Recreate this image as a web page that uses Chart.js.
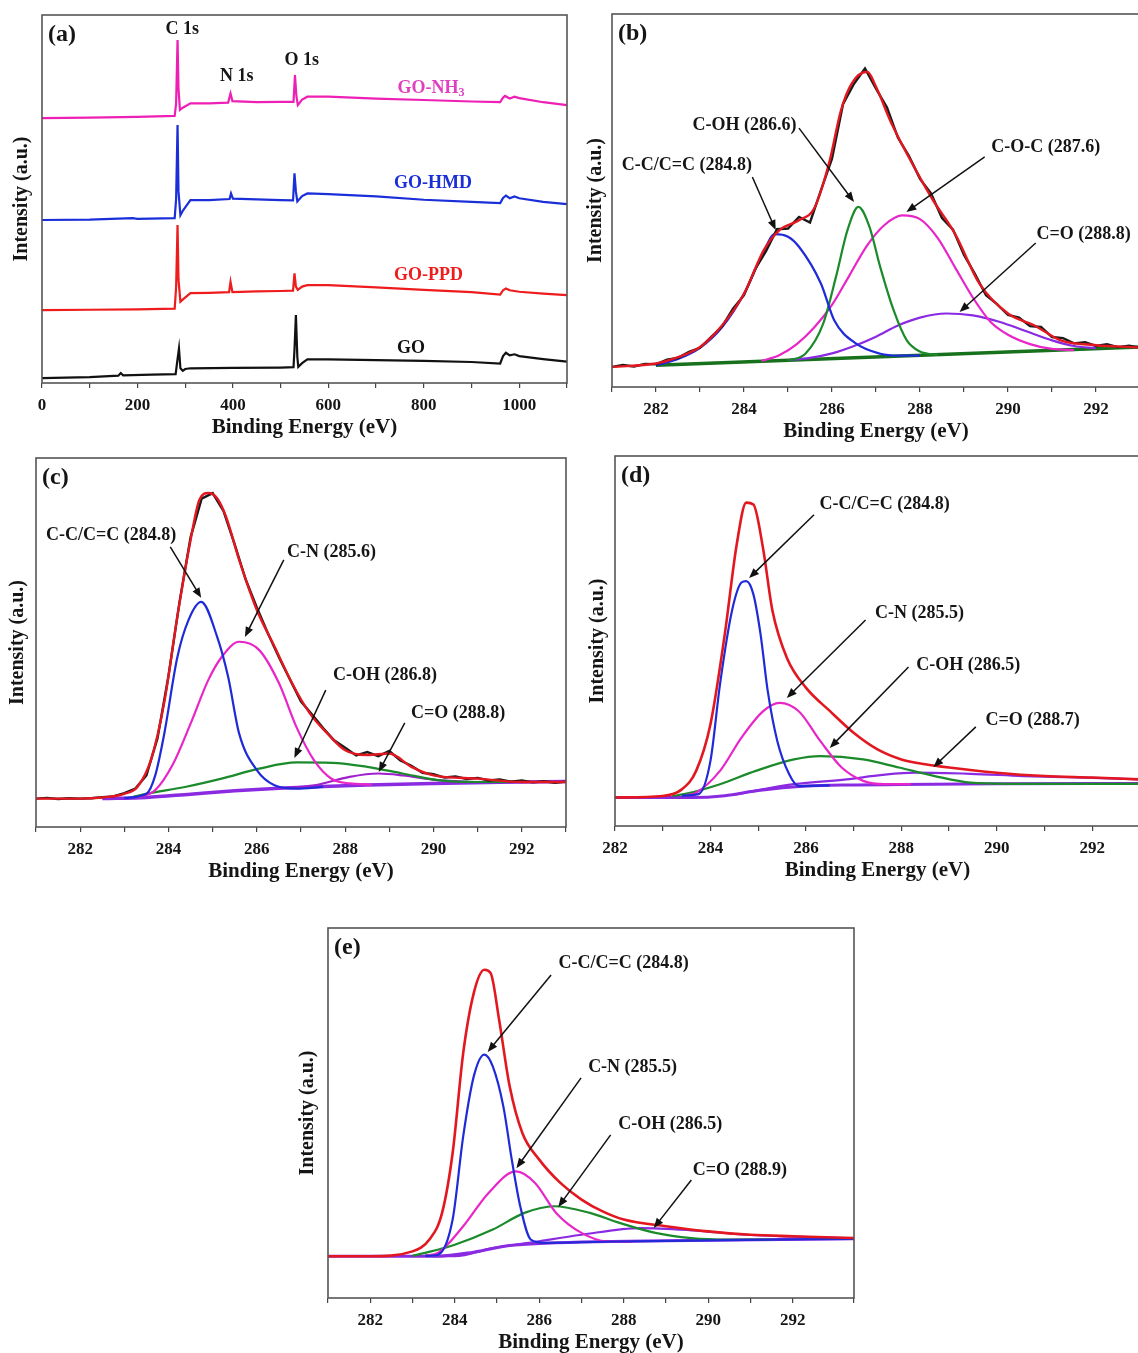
<!DOCTYPE html>
<html>
<head>
<meta charset="utf-8">
<script src="https://cdn.jsdelivr.net/npm/chart.js@4.4.1/dist/chart.umd.min.js"></script>
<style>
html, body { margin: 0; padding: 0; background: #fff; width: 1138px; height: 1353px; overflow: hidden; }
canvas { position: absolute; }
</style>
</head>
<body>
<canvas id="pa"></canvas>
<canvas id="pb"></canvas>
<canvas id="pc"></canvas>
<canvas id="pd"></canvas>
<canvas id="pe"></canvas>
<script>
// ---- (a) survey spectra, [binding energy, intensity] ----
const aNH3 = [[0,72.0],[100,72.1],[200,72.3],[278,72.6],[281,76],[284,93.2],[286,80],[289,74.2],[295,74.8],[311,76.0],[350,76.0],[390,76.2],[395,78.7],[399,76.6],[450,76.3],[500,76.4],[527,76.4],[530,83.7],[533,78],[536,75.5],[545,77],[556,77.8],[600,77.8],[700,77.3],[800,76.9],[900,76.5],[960,76.3],[965,77.4],[970,78.0],[980,77.3],[990,77.8],[1000,77.4],[1050,76.3],[1100,75.5]];
const aHMD = [[0,44.3],[100,44.4],[190,44.8],[200,44.6],[278,44.8],[281,50],[284,70.1],[286,52],[290,45.6],[296,47],[311,49.7],[350,49.7],[393,50.0],[396,51.5],[400,50.1],[450,49.9],[500,49.7],[526,49.6],[529,57.0],[532,52],[535,49.3],[545,50.8],[556,51.5],[600,51.3],[700,50.7],[800,49.8],[900,49.2],[960,48.9],[966,50.3],[972,50.9],[980,50.2],[990,50.7],[1000,50.2],[1050,49.2],[1100,48.6]];
const aPPD = [[0,19.8],[100,19.9],[200,20.0],[278,20.2],[281,26],[284,42.9],[286,28],[290,22.1],[296,22.8],[311,24.4],[350,24.5],[392,24.7],[395,27.5],[399,24.7],[450,24.9],[500,25.0],[526,25.1],[529,29.8],[532,26.2],[536,25.3],[545,26.2],[556,26.6],[600,26.6],[700,26.0],[800,25.3],[900,24.7],[960,24.0],[966,25.2],[972,25.7],[980,25.2],[1000,24.8],[1050,24.3],[1100,23.9]];
const aGO = [[0,1.3],[100,1.6],[160,2.0],[165,2.7],[170,2.1],[230,2.3],[280,2.4],[284,6.5],[287,9.4],[290,4.0],[295,3.3],[300,3.8],[311,4.0],[400,4.1],[500,4.2],[527,4.3],[529,9],[532,18.5],[535,7],[537,4.4],[545,5.4],[556,6.4],[600,6.4],[700,6.2],[800,6.0],[900,5.7],[960,5.3],[966,7.3],[972,8.2],[980,7.5],[990,7.8],[1000,7.3],[1050,6.5],[1100,5.8]];

// ---- (b) GO C1s ----
const bRawStart = 281, bRawStep = 0.25;
const bRaw = [5.4,5.9,5.5,6.2,6.1,7.3,7.8,9.4,10.5,13.4,16.2,21.0,24.6,31.5,36.4,42.3,42.5,45.6,44.1,52.8,61.2,75.8,81.3,85.4,80.0,74.9,66.8,61.9,55.8,51.9,45.3,42.2,35.4,30.3,24.6,22.2,19.3,18.6,16.3,16.1,13.4,13.1,11.7,12.0,11.0,11.5,10.7,11.1,10.5];
const bEnv = [[281,5.4],[282,6.3],[282.5,8],[283,10.7],[283.5,16.5],[284,25],[284.45,36.7],[284.8,42],[285.25,44.7],[285.6,48],[285.95,60.8],[286.2,74],[286.45,81.4],[286.8,84.5],[287,80.5],[287.35,70.7],[287.95,57.2],[288.3,50],[288.8,41],[289.35,27.7],[290,19.7],[290.6,16.5],[291.2,12.5],[292,11.2],[292.8,10.7],[293,10.6]];
const bBase = [[282,5.8],[293,10.7]];
const bCC = [[282,5.8],[282.5,7.5],[283,10.5],[283.5,16],[284,25],[284.4,35],[284.7,41],[285,40.3],[285.25,37.6],[285.75,27.7],[286.05,17.9],[286.55,11.6],[287.1,8.9],[287.5,8.4],[288,8.4]];
const bCOH = [[285,7.1],[285.4,9],[285.8,17],[286.1,30],[286.35,42],[286.6,48.3],[286.85,43],[287.1,32],[287.4,20.6],[287.7,12.5],[288,9.5],[288.4,8.6]];
const bCOC = [[284.4,7],[284.8,8.5],[285.2,11.5],[285.6,16],[286,22],[286.4,30],[286.8,38],[287.2,43.5],[287.6,46],[288,45],[288.4,40],[288.8,32],[289.2,24],[289.6,17.5],[290,14],[290.5,11.5],[291,10.2],[291.5,9.9]];
const bCO = [[285,7.2],[285.5,7.8],[286,9],[286.5,11],[287,13.5],[287.5,16.5],[288,18.6],[288.6,19.7],[289.2,19.2],[289.8,17.5],[290.4,15],[291,12.5],[291.5,11],[292,10.4]];

// ---- (c) GO-PPD C1s ----
const cRawStart = 281, cRawStep = 0.25;
const cRaw = [7.7,7.9,7.6,7.8,7.7,7.8,8.1,8.3,9.2,10.4,14.0,24.0,41.0,61.0,78.5,89.0,90.5,85.5,76.5,67.0,59.5,52.5,46.0,40.0,34.0,30.5,26.8,23.5,21.5,19.4,20.3,19.2,20.6,18.0,16.6,14.7,14.3,13.4,13.7,13.0,13.3,12.6,12.9,12.3,12.6,12.1,12.4,12.0,12.3];
const cEnv = [[281,7.7],[282,7.7],[282.5,8.0],[283,9.0],[283.3,10.9],[283.6,18.1],[283.9,33.5],[284.2,57],[284.5,77.8],[284.7,88.7],[284.9,90.5],[285.1,89.1],[285.3,84.2],[285.6,72.4],[286,58.8],[286.4,48.9],[286.8,38.9],[287.2,30.8],[287.6,25.3],[288,20.8],[288.5,19.5],[289,19.9],[289.5,16.3],[290,14.0],[291,13.1],[292,12.2],[293,12.2]];
const cBase = [[282.5,7.7],[283.5,8.0],[284.5,8.9],[285.5,9.8],[286.5,10.5],[287.5,11.0],[288.5,11.4],[290,11.8],[291.5,12.1],[293,12.3]];
const cCC = [[283,7.9],[283.5,9],[283.7,14],[283.9,25],[284.2,46],[284.45,56],[284.74,61],[285.1,51.6],[285.35,40.7],[285.6,25.3],[286,15.4],[286.4,11.3],[286.9,10.4],[287.5,10.9]];
const cCN = [[283.3,8.0],[283.7,10],[284.1,17],[284.5,28],[284.9,39.8],[285.2,46],[285.6,50.2],[286.05,48],[286.5,39],[286.9,27],[287.3,18],[287.7,13],[288.1,11.8],[288.6,11.5]];
const cCOH = [[283.2,8.2],[283.5,9],[284.4,10.9],[285.2,13.1],[286.05,15.8],[286.9,17.5],[287.7,17.4],[288.5,16.3],[289.3,14.5],[290.1,12.7],[291,12.2],[292,12.2]];
const cCO = [[286.5,10.5],[287.3,11.3],[288.1,13.6],[288.75,14.5],[289.3,14],[290.1,12.7],[291,12.2]];

// ---- (d) GO-HMD C1s ----
const dEnv = [[282,7.7],[283,8.1],[283.4,9.9],[283.7,14.9],[284,27.5],[284.3,51.8],[284.55,76.1],[284.75,87.4],[284.9,86.9],[285.1,75.2],[285.3,58.1],[285.6,45.5],[286,37.4],[286.5,31.1],[287,25.2],[287.5,20.7],[288,18],[288.5,16.7],[289,15.8],[290,14.4],[291,13.5],[292,13.1],[293,12.6]];
const dBase = [[282,7.7],[283.6,7.7],[284.3,8.2],[285,9.6],[286,10.8],[287,11.1],[288,11.2],[290,11.4],[293,11.5]];
const dCC = [[283.4,8.2],[283.75,8.6],[284,17.6],[284.2,38.3],[284.45,58.1],[284.65,65.8],[284.75,66.2],[284.9,62.6],[285.05,51.8],[285.2,36.5],[285.4,23],[285.65,14],[285.85,10.8],[286.5,11.0]];
const dCN = [[283.5,8.3],[283.7,9],[284.2,14.9],[284.65,23.9],[285.1,31],[285.45,33.3],[285.85,31],[286.3,23],[286.75,15.8],[287.2,12.2],[287.65,11.3],[288.2,11.3]];
const dCOH = [[283.2,8.1],[283.45,8.6],[284.2,11.3],[284.95,14.9],[285.75,18],[286.3,18.9],[287.2,18],[287.95,15.8],[288.7,13.5],[289.45,11.7],[290.2,11.4],[293,11.4]];
const dCO = [[284.5,8.5],[285.75,11.3],[286.85,12.6],[287.6,13.8],[288.3,14.4],[289.45,14.1],[290.55,13.5],[292,13.0],[293,12.6]];

// ---- (e) GO-NH3 C1s ----
const eEnv = [[281,11.3],[282,11.3],[283,12.6],[283.4,15.8],[283.7,23],[283.95,39.2],[284.2,66.2],[284.45,82.4],[284.7,88.7],[284.85,87.8],[285.05,75.2],[285.3,57.2],[285.6,44.6],[286,37.4],[286.5,31.1],[287,26.6],[287.5,23.4],[288,21.2],[289,19.4],[290,18],[291,17.1],[292,16.7],[293.45,16.2]];
const eBase = [[281,11.3],[283.6,11.3],[284.45,12.4],[285.3,14.2],[286.15,14.8],[290,15.6],[293.45,16.0]];
const eCC = [[283.3,11.4],[283.6,11.7],[283.95,21.2],[284.2,43.7],[284.45,59.9],[284.7,65.8],[284.9,62.6],[285.15,51.8],[285.35,37.4],[285.55,24.8],[285.8,15.8],[286.15,14.9],[287.5,15.2],[290,15.6],[293.45,16.0]];
const eCN = [[283.3,11.5],[283.6,12.2],[284.2,19.4],[284.8,28.4],[285.45,34.2],[285.9,31.1],[286.4,23],[287,17.6],[287.6,15.3],[288.2,15.2]];
const eCOH = [[283,11.4],[283.3,12.2],[284,14.4],[284.9,18.5],[285.65,23],[286.35,24.8],[287.2,23],[287.9,20.3],[288.75,17.6],[289.6,16.2],[290.45,15.8],[291.5,15.8]];
const eCO = [[283.5,11.3],[284,11.3],[284.9,13.5],[285.75,14.9],[287,17.1],[288.4,18.9],[289.6,18.3],[290.9,17.1],[292.2,16.5],[293.45,16.2]];

const RED = '#e3171f', BLUE = '#1f2bd8', GREEN = '#1b8a2a', MAG = '#e826c8', VIO = '#8a2be2', DKGREEN = '#17701c', RAW = '#1a1a1a';
const SERIF = '"Liberation Serif", "Times New Roman", serif';

function pts(arr) { return arr.map(p => ({ x: p[0], y: p[1] })); }
function grid(start, step, vals) { return vals.map((v, i) => [start + i * step, v]); }

function line(data, color, width, smooth) {
  return {
    data: pts(data), borderColor: color, borderWidth: width, pointRadius: 0, fill: false,
    tension: 0, cubicInterpolationMode: smooth ? 'monotone' : 'default'
  };
}

const framePlugin = {
  id: 'frame',
  afterDatasetsDraw(chart) {
    const a = chart.chartArea, ctx = chart.ctx;
    ctx.save();
    ctx.strokeStyle = '#555';
    ctx.lineWidth = 1.6;
    ctx.strokeRect(a.left, a.top, a.right - a.left, a.bottom - a.top);
    ctx.restore();
  }
};

function notesPlugin(notes) {
  return {
    id: 'notes',
    afterDraw(chart) {
      const { ctx, chartArea } = chart;
      const x = chart.scales.x, y = chart.scales.y;
      ctx.save();
      ctx.fillStyle = '#151515';
      ctx.font = 'bold 24px ' + SERIF;
      ctx.textAlign = 'left';
      ctx.textBaseline = 'middle';
      ctx.fillText(notes.tag, chartArea.left + 6, chartArea.top + 20);

      (notes.arrows || []).forEach(a => {
        const x1 = x.getPixelForValue(a.from[0]), y1 = y.getPixelForValue(a.from[1]);
        const x2 = x.getPixelForValue(a.to[0]), y2 = y.getPixelForValue(a.to[1]);
        const ang = Math.atan2(y2 - y1, x2 - x1);
        ctx.strokeStyle = '#111';
        ctx.lineWidth = 1.5;
        ctx.beginPath();
        ctx.moveTo(x1, y1);
        ctx.lineTo(x2 - 6 * Math.cos(ang), y2 - 6 * Math.sin(ang));
        ctx.stroke();
        ctx.fillStyle = '#111';
        ctx.beginPath();
        ctx.moveTo(x2, y2);
        ctx.lineTo(x2 - 10 * Math.cos(ang) + 4 * Math.sin(ang), y2 - 10 * Math.sin(ang) - 4 * Math.cos(ang));
        ctx.lineTo(x2 - 10 * Math.cos(ang) - 4 * Math.sin(ang), y2 - 10 * Math.sin(ang) + 4 * Math.cos(ang));
        ctx.closePath();
        ctx.fill();
      });

      ctx.textBaseline = 'middle';
      (notes.labels || []).forEach(l => {
        const size = l.size || 18;
        const px = x.getPixelForValue(l.x), py = y.getPixelForValue(l.y);
        ctx.fillStyle = l.color || '#151515';
        ctx.font = 'bold ' + size + 'px ' + SERIF;
        const w1 = ctx.measureText(l.text).width;
        let w2 = 0;
        const subFont = 'bold ' + Math.round(size * 0.65) + 'px ' + SERIF;
        if (l.sub) { ctx.font = subFont; w2 = ctx.measureText(l.sub).width; ctx.font = 'bold ' + size + 'px ' + SERIF; }
        const left = px - (w1 + w2) / 2;
        ctx.textAlign = 'left';
        ctx.fillText(l.text, left, py);
        if (l.sub) { ctx.font = subFont; ctx.fillText(l.sub, left + w1, py + size * 0.3); }
      });
      ctx.restore();
    }
  };
}

function makePanel(id, box, xr, step, labelEvery, datasets, notes) {
  const padTop = 4, padRight = 4, H = 57;
  const cv = document.getElementById(id);
  const w = box.W + (box.right - box.left) + padRight;
  const h = padTop + (box.bottom - box.top) + H;
  cv.width = w; cv.height = h;
  cv.style.width = w + 'px'; cv.style.height = h + 'px';
  cv.style.left = (box.left - box.W) + 'px';
  cv.style.top = (box.top - padTop) + 'px';
  datasets.forEach((d, i) => { d.order = datasets.length - i; });
  new Chart(cv, {
    type: 'line',
    data: { datasets: datasets },
    options: {
      responsive: false, animation: false, devicePixelRatio: 1,
      layout: { padding: { left: 0, top: padTop, right: padRight, bottom: 0 } },
      plugins: { legend: { display: false }, tooltip: { enabled: false } },
      scales: {
        x: {
          type: 'linear', min: xr[0], max: xr[1],
          afterFit(s) { s.height = H; },
          border: { display: false },
          grid: { display: true, drawOnChartArea: false, drawTicks: true, tickLength: 5, color: '#444', lineWidth: 1.2 },
          ticks: {
            stepSize: step, autoSkip: false, maxRotation: 0, padding: 7, color: '#151515',
            font: { family: SERIF, size: 17, weight: 'bold' },
            callback: v => (Math.abs(v % labelEvery) < 1e-6 ? String(v) : '')
          },
          title: { display: true, text: 'Binding Energy (eV)', color: '#151515', padding: 0,
                   font: { family: SERIF, size: 21, weight: 'bold' } }
        },
        y: {
          min: 0, max: 100,
          afterFit(s) { s.width = box.W; },
          border: { display: false },
          grid: { display: false },
          ticks: { display: false },
          title: { display: true, text: 'Intensity (a.u.)', color: '#151515', padding: 0,
                   font: { family: SERIF, size: 20, weight: 'bold' } }
        }
      }
    },
    plugins: [framePlugin, notesPlugin(notes)]
  });
}

// (a)
makePanel('pa', { left: 42, top: 15, right: 570, bottom: 383, W: 32 }, [0, 1100], 100, 200, [
  line(aGO, '#111', 2.2, false),
  line(aPPD, '#ee1c1c', 2.2, false),
  line(aHMD, '#1b2fd9', 2.2, false),
  line(aNH3, '#ee1fb4', 2.2, false)
], {
  tag: '(a)',
  labels: [
    { text: 'C 1s', x: 294, y: 96.2 },
    { text: 'N 1s', x: 408, y: 83.4 },
    { text: 'O 1s', x: 544, y: 87.8 },
    { text: 'GO-NH', sub: '3', x: 815, y: 80.2, color: '#e040c0' },
    { text: 'GO-HMD', x: 819, y: 54.3, color: '#1b2fd9' },
    { text: 'GO-PPD', x: 810, y: 29.3, color: '#ee1c1c' },
    { text: 'GO', x: 773, y: 9.5, color: '#111' }
  ]
});

// (b)
makePanel('pb', { left: 612, top: 14, right: 1143, bottom: 387, W: 28 }, [281, 293], 1, 2, [
  line(bBase, DKGREEN, 3.5, true),
  line(bCO, VIO, 2.2, true),
  line(bCOC, MAG, 2.2, true),
  line(bCOH, GREEN, 2.2, true),
  line(bCC, BLUE, 2.2, true),
  line(grid(bRawStart, bRawStep, bRaw), RAW, 2.4, false),
  line(bEnv, RED, 2.4, true)
], {
  tag: '(b)',
  labels: [
    { text: 'C-C/C=C (284.8)', x: 282.7, y: 59.5 },
    { text: 'C-OH (286.6)', x: 284.01, y: 70.2 },
    { text: 'C-O-C (287.6)', x: 290.86, y: 64.3 },
    { text: 'C=O (288.8)', x: 291.72, y: 40.8 }
  ],
  arrows: [
    { from: [284.19, 56.3], to: [284.72, 42.1] },
    { from: [285.25, 69.4], to: [286.5, 49.6] },
    { from: [289.47, 61.7], to: [287.69, 46.9] },
    { from: [290.63, 38.6], to: [288.9, 20.1] }
  ]
});

// (c)
makePanel('pc', { left: 36, top: 458, right: 569, bottom: 827, W: 30 }, [281, 293], 1, 2, [
  line(cBase, VIO, 3.5, true),
  line(cCO, '#a020d0', 2.2, true),
  line(cCOH, GREEN, 2.2, true),
  line(cCN, MAG, 2.2, true),
  line(cCC, BLUE, 2.2, true),
  line(grid(cRawStart, cRawStep, cRaw), RAW, 2.4, false),
  line(cEnv, RED, 2.4, true)
], {
  tag: '(c)',
  labels: [
    { text: 'C-C/C=C (284.8)', x: 282.7, y: 79.1 },
    { text: 'C-N (285.6)', x: 287.69, y: 74.3 },
    { text: 'C-OH (286.8)', x: 288.9, y: 41.2 },
    { text: 'C=O (288.8)', x: 290.56, y: 30.9 }
  ],
  arrows: [
    { from: [284.04, 75.9], to: [284.74, 62.1] },
    { from: [286.61, 72.4], to: [285.73, 51.5] },
    { from: [287.56, 37.1], to: [286.85, 18.7] },
    { from: [289.35, 28.2], to: [288.76, 14.9] }
  ]
});

// (d)
makePanel('pd', { left: 615, top: 456, right: 1143, bottom: 826, W: 29 }, [282, 293], 1, 2, [
  line(dBase, VIO, 3, true),
  line(dCO, VIO, 2.2, true),
  line(dCOH, GREEN, 2.2, true),
  line(dCN, MAG, 2.2, true),
  line(dCC, BLUE, 2.2, true),
  line(dEnv, RED, 2.6, true)
], {
  tag: '(d)',
  labels: [
    { text: 'C-C/C=C (284.8)', x: 287.65, y: 86.8 },
    { text: 'C-N (285.5)', x: 288.38, y: 57.6 },
    { text: 'C-OH (286.5)', x: 289.4, y: 43.5 },
    { text: 'C=O (288.7)', x: 290.75, y: 28.6 }
  ],
  arrows: [
    { from: [286.17, 84.1], to: [284.81, 67.0] },
    { from: [287.25, 55.7], to: [285.6, 34.6] },
    { from: [288.15, 43.0], to: [286.5, 21.1] },
    { from: [289.56, 26.8], to: [288.67, 15.9] }
  ]
});

// (e)
makePanel('pe', { left: 328, top: 928, right: 857, bottom: 1298, W: 32 }, [281, 293.45], 1, 2, [
  line(eBase, VIO, 3, true),
  line(eCO, VIO, 2.2, true),
  line(eCOH, GREEN, 2.2, true),
  line(eCN, MAG, 2.2, true),
  line(eCC, BLUE, 2.2, true),
  line(eEnv, RED, 2.6, true)
], {
  tag: '(e)',
  labels: [
    { text: 'C-C/C=C (284.8)', x: 288.0, y: 90.5 },
    { text: 'C-N (285.5)', x: 288.21, y: 62.4 },
    { text: 'C-OH (286.5)', x: 289.1, y: 46.8 },
    { text: 'C=O (288.9)', x: 290.75, y: 34.6 }
  ],
  arrows: [
    { from: [286.28, 87.3], to: [284.78, 66.5] },
    { from: [286.99, 59.5], to: [285.46, 35.1] },
    { from: [287.69, 44.1], to: [286.45, 24.6] },
    { from: [289.6, 31.9], to: [288.71, 18.9] }
  ]
});
</script>
</body>
</html>
